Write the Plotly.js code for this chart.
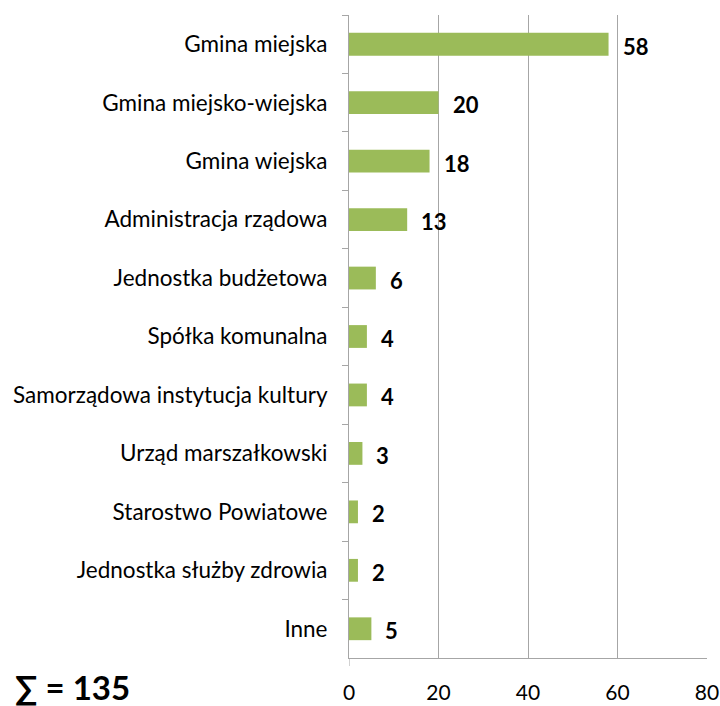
<!DOCTYPE html>
<html>
<head>
<meta charset="utf-8">
<script src="https://cdn.plot.ly/plotly-3.0.1.min.js"></script>
<style>html,body{margin:0;padding:0;background:#fff;}#chart{width:720px;height:706px;}</style>
</head>
<body>
<div id="chart"></div>
<script>
const categories = [
  "Gmina miejska",
  "Gmina miejsko-wiejska",
  "Gmina wiejska",
  "Administracja rządowa",
  "Jednostka budżetowa",
  "Spółka komunalna",
  "Samorządowa instytucja kultury",
  "Urząd marszałkowski",
  "Starostwo Powiatowe",
  "Jednostka służby zdrowia",
  "Inne"
];
const values = [58, 20, 18, 13, 6, 4, 4, 3, 2, 2, 5];
const xTicks = [0, 20, 40, 60, 80];
const sumLabel = "∑ = 135";

const FONT = "Lato, 'Open Sans', sans-serif";

const trace = {
  type: "bar",
  orientation: "h",
  x: values,
  y: categories,
  marker: { color: "#9BBB59" },
  width: 0.39,
  hoverinfo: "none"
};

const annotations = categories.map((c, i) => ({
  x: values[i],
  y: c,
  xref: "x",
  yref: "y",
  text: String(values[i]),
  showarrow: false,
  xanchor: "left",
  yanchor: "middle",
  xshift: 12,
  yshift: -2,
  font: { family: FONT, size: 22, color: "#000", weight: "bold" }
}));
annotations.push({
  x: 0, y: 0, xref: "paper", yref: "paper",
  xshift: -336, yshift: -29,
  text: "<b>" + sumLabel + "</b>",
  showarrow: false,
  xanchor: "left", yanchor: "middle",
  font: { family: FONT, size: 33, color: "#000" }
});

const layout = {
  width: 720,
  height: 706,
  margin: { l: 349, r: 13, t: 15, b: 48 },
  paper_bgcolor: "#fff",
  plot_bgcolor: "#fff",
  showlegend: false,
  xaxis: {
    range: [0, 80],
    tickvals: xTicks,
    ticktext: xTicks.map(String),
    showgrid: true,
    gridcolor: "#a6a6a6",
    gridwidth: 1,
    showline: true,
    linecolor: "#a6a6a6",
    zeroline: false,
    ticks: "",
    tickfont: { family: FONT, size: 21, color: "#000" },
    ticklabelstandoff: 16,
    fixedrange: true
  },
  yaxis: {
    type: "category",
    autorange: "reversed",
    showline: true,
    linecolor: "#a6a6a6",
    ticks: "outside",
    tickson: "boundaries",
    ticklen: 6,
    tickcolor: "#a6a6a6",
    showgrid: false,
    tickfont: { family: FONT, size: 22.5, color: "#000" },
    ticklabelstandoff: 16,
    fixedrange: true
  },
  shapes: [{
    type: "line",
    xref: "x", yref: "paper",
    x0: 0, x1: 0,
    ysizemode: "pixel", yanchor: 0,
    y0: 0, y1: -8,
    line: { color: "#a6a6a6", width: 1 }
  }],
  annotations: annotations
};

Plotly.newPlot("chart", [trace], layout, { displayModeBar: false, staticPlot: true });
</script>
</body>
</html>
